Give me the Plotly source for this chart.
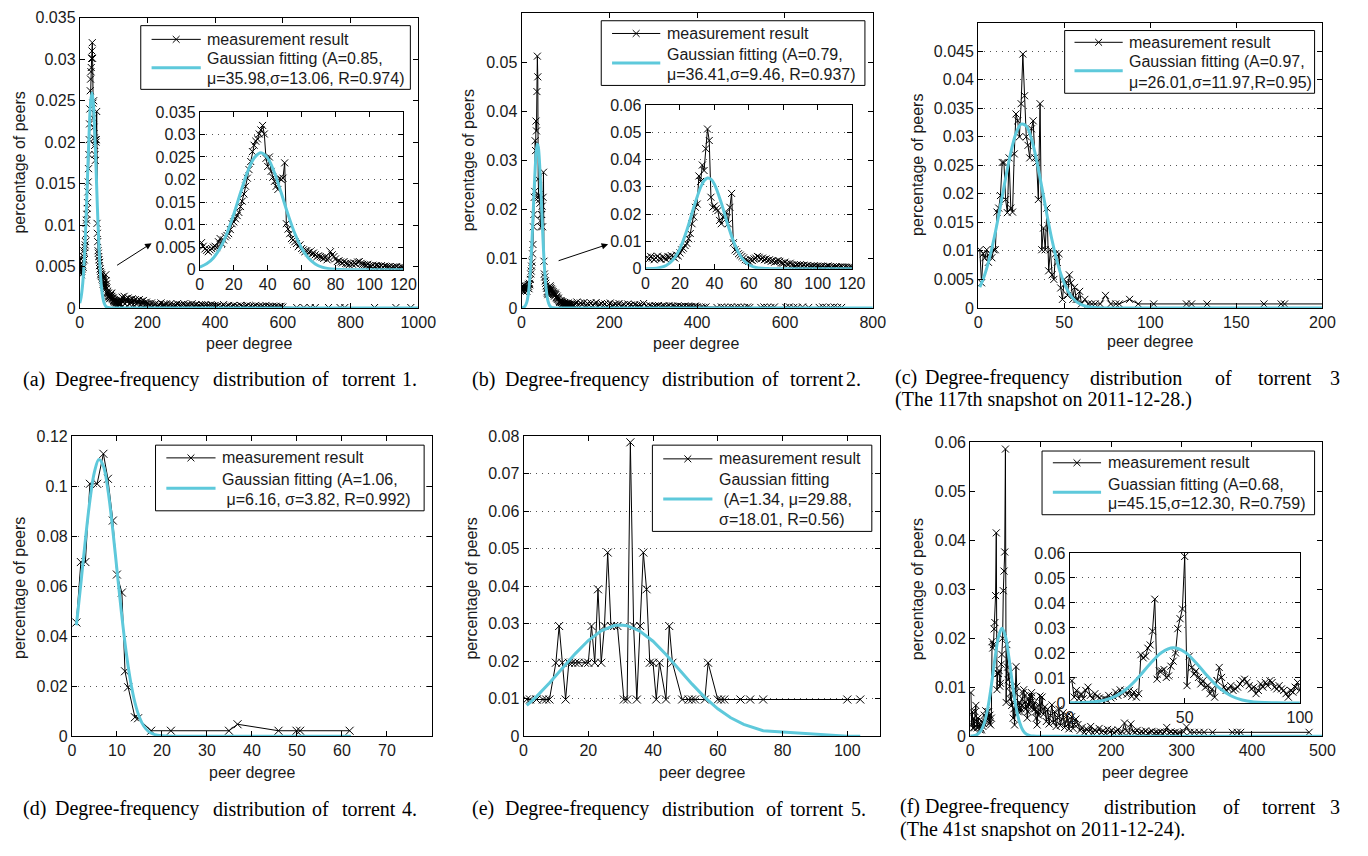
import plotly.graph_objects as go

W, H = 1368, 856
FONT = "Liberation Sans, Arial, Helvetica, sans-serif"
SERIF = "Liberation Serif, Times New Roman, serif"
CYAN = "#5EC9DB"
TXT = "#1a1a1a"
FS = 16

# ---------------- data ----------------
# (a) torrent 1 : degree 1..120 then tail
deg_a = list(range(1, 121))
pct_a = [0.0060, 0.0052, 0.0046, 0.0043, 0.0040, 0.0044, 0.0047, 0.0050, 0.0052, 0.0049,
         0.0062, 0.0069, 0.0058, 0.0066, 0.0073, 0.0076, 0.0080, 0.0089, 0.0102, 0.0106,
         0.0113, 0.0120, 0.0127, 0.0140, 0.0152, 0.0168, 0.0185, 0.0203, 0.0222, 0.0240,
         0.0262, 0.0276, 0.0285, 0.0290, 0.0301, 0.0310, 0.0320, 0.0301, 0.0247, 0.0229,
         0.0250, 0.0218, 0.0205, 0.0196, 0.0185, 0.0178, 0.0203, 0.0200, 0.0203, 0.0237,
         0.0102, 0.0090, 0.0080, 0.0069, 0.0066, 0.0062, 0.0058, 0.0051, 0.0055, 0.0047,
         0.0044, 0.0040, 0.0042, 0.0038, 0.0040, 0.0035, 0.0037, 0.0033, 0.0029, 0.0031,
         0.0029, 0.0027, 0.0025, 0.0028, 0.0022, 0.0025, 0.0040, 0.0033, 0.0029, 0.0024,
         0.0018, 0.0020, 0.0017, 0.0015, 0.0018, 0.0014, 0.0013, 0.0011, 0.0014, 0.0012,
         0.0015, 0.0013, 0.0017, 0.0018, 0.0014, 0.0012, 0.0011, 0.0010, 0.0012, 0.0009,
         0.0008, 0.0010, 0.0007, 0.0009, 0.0008, 0.0007, 0.0009, 0.0006, 0.0008, 0.0007,
         0.0006, 0.0007, 0.0005, 0.0006, 0.0005, 0.0007, 0.0004, 0.0005, 0.0006, 0.0004]
deg_a_t1 = list(range(122, 201, 3))
pct_a_t1 = [0.0009, 0.0013, 0.0007, 0.0014, 0.0005, 0.0011, 0.0008, 0.0012, 0.0005, 0.0010,
            0.0006, 0.0011, 0.0004, 0.0009, 0.0010, 0.0005, 0.0009, 0.0006, 0.0010, 0.0004,
            0.0008, 0.0005, 0.0009, 0.0006, 0.0004, 0.0007, 0.0005]
deg_a_t2 = list(range(204, 401, 4))
pct_a_t2 = [0.0005, 0.0003, 0.0006, 0.0002, 0.0004, 0.0005, 0.0002, 0.0004, 0.0003, 0.0006,
            0.0002, 0.0004, 0.0003, 0.0005, 0.0002, 0.0003, 0.0005, 0.0002, 0.0004, 0.0003,
            0.0002, 0.0005, 0.0003, 0.0002, 0.0004, 0.0003, 0.0005, 0.0002, 0.0003, 0.0004,
            0.0002, 0.0003, 0.0005, 0.0002, 0.0003, 0.0004, 0.0002, 0.0003, 0.0002, 0.0004,
            0.0003, 0.0002, 0.0004, 0.0002, 0.0003, 0.0002, 0.0004, 0.0003, 0.0002, 0.0003]
deg_a_t3 = list(range(405, 601, 5))
pct_a_t3 = [0.0002, 0.0003, 0.0001, 0.0002, 0.0004, 0.0001, 0.0002, 0.0003, 0.0001, 0.0002,
            0.0003, 0.0001, 0.0002, 0.0001, 0.0003, 0.0002, 0.0001, 0.0002, 0.0003, 0.0001,
            0.0002, 0.0001, 0.0002, 0.0003, 0.0001, 0.0002, 0.0001, 0.0002, 0.0001, 0.0003,
            0.0001, 0.0002, 0.0001, 0.0002, 0.0001, 0.0002, 0.0001, 0.0001, 0.0002, 0.0001]
deg_a_t4 = [641, 662, 681, 696, 735, 769, 783, 871, 934, 978]
pct_a_t4 = [0.00005, 0.00005, 0.00005, 0.00005, 0.00005, 0.00005, 0.00005, 0.00005, 0.00005, 0.00005]
fit_a_x = [0, 4, 8, 12, 16, 20, 24, 28, 32, 36, 40, 44, 48, 52, 56, 60, 64, 68, 72, 76, 80, 88, 96, 120, 1000]
fit_a_y = [0.00058, 0.00130, 0.00262, 0.00481, 0.00806, 0.01228, 0.01705, 0.02154, 0.02478, 0.02596,
           0.02476, 0.02150, 0.01700, 0.01223, 0.00802, 0.00478, 0.00260, 0.00129, 0.00058, 0.00024,
           0.00009, 0.00001, 0, 0, 0]

# (b) torrent 2
deg_b = list(range(1, 121))
pct_b = [0.0042, 0.0036, 0.0045, 0.0039, 0.0033, 0.0040, 0.0046, 0.0038, 0.0035, 0.0043,
         0.0040, 0.0034, 0.0045, 0.0041, 0.0048, 0.0044, 0.0039, 0.0050, 0.0047, 0.0058,
         0.0069, 0.0075, 0.0085, 0.0093, 0.0110, 0.0129, 0.0165, 0.0190, 0.0225, 0.0237,
         0.0340, 0.0320, 0.0380, 0.0360, 0.0440, 0.0512, 0.0470, 0.0262, 0.0225, 0.0230,
         0.0220, 0.0213, 0.0177, 0.0165, 0.0190, 0.0190, 0.0207, 0.0165, 0.0225, 0.0276,
         0.0095, 0.0069, 0.0063, 0.0055, 0.0050, 0.0045, 0.0040, 0.0033, 0.0030, 0.0027,
         0.0033, 0.0030, 0.0036, 0.0039, 0.0045, 0.0042, 0.0036, 0.0039, 0.0033, 0.0036,
         0.0030, 0.0033, 0.0027, 0.0030, 0.0024, 0.0027, 0.0030, 0.0027, 0.0021, 0.0020,
         0.0024, 0.0018, 0.0017, 0.0020, 0.0015, 0.0013, 0.0011, 0.0014, 0.0012, 0.0015,
         0.0011, 0.0013, 0.0009, 0.0012, 0.0008, 0.0010, 0.0009, 0.0011, 0.0008, 0.0010,
         0.0008, 0.0007, 0.0009, 0.0006, 0.0008, 0.0010, 0.0007, 0.0005, 0.0007, 0.0006,
         0.0008, 0.0005, 0.0006, 0.0007, 0.0004, 0.0006, 0.0005, 0.0004, 0.0006, 0.0005]
deg_b_t1 = list(range(122, 281, 4))
pct_b_t1 = [0.0008, 0.0012, 0.0005, 0.0010, 0.0007, 0.0011, 0.0004, 0.0009, 0.0006, 0.0010,
            0.0005, 0.0008, 0.0011, 0.0004, 0.0007, 0.0009, 0.0005, 0.0008, 0.0003, 0.0007,
            0.0010, 0.0004, 0.0006, 0.0008, 0.0005, 0.0009, 0.0003, 0.0006, 0.0007, 0.0004,
            0.0008, 0.0005, 0.0006, 0.0003, 0.0007, 0.0005, 0.0004, 0.0006, 0.0003, 0.0009]
deg_b_t2 = list(range(284, 401, 4))
pct_b_t2 = [0.0004, 0.0002, 0.0005, 0.0003, 0.0002, 0.0004, 0.0003, 0.0005, 0.0002, 0.0003,
            0.0004, 0.0002, 0.0003, 0.0005, 0.0002, 0.0004, 0.0003, 0.0002, 0.0004, 0.0002,
            0.0003, 0.0002, 0.0004, 0.0002, 0.0003, 0.0002, 0.0003, 0.0002, 0.0004, 0.0002]
deg_b_t3 = [410, 415, 420, 445, 455, 462, 470, 478, 485, 492, 500, 508, 515, 520, 545, 552,
            560, 568, 576, 602, 610, 620, 628, 640, 654, 678, 686, 694, 704, 712, 720, 729]
pct_b_t3 = [0.0002, 0.0001, 0.0002, 0.0001, 0.0002, 0.0001, 0.0001, 0.0002, 0.0001, 0.0002,
            0.0001, 0.0001, 0.0002, 0.0001, 0.0001, 0.0002, 0.0001, 0.0001, 0.0002, 0.0001,
            0.0002, 0.0001, 0.0001, 0.0002, 0.0001, 0.0001, 0.0002, 0.0001, 0.0001, 0.0002,
            0.0001, 0.0001]
fit_b_x = [0, 4, 8, 12, 16, 20, 24, 28, 32, 34, 36, 38, 40, 44, 48, 52, 56, 60, 64, 68, 72, 80, 120, 800]
fit_b_y = [0.00002, 0.00009, 0.00037, 0.00119, 0.00325, 0.00740, 0.01409, 0.02243, 0.02987, 0.03224,
           0.03327, 0.03283, 0.03099, 0.02414, 0.01572, 0.00857, 0.00390, 0.00149, 0.00047, 0.00013,
           0.00003, 0, 0, 0]

# (c) torrent 3, 117th snapshot
deg_c = list(range(1, 60))
pct_c = [0.0102, 0.0044, 0.0095, 0.0088, 0.0102, 0.0080, 0.0095, 0.0088, 0.0102, 0.0102,
         0.0168, 0.0175, 0.0197, 0.0255, 0.0255, 0.0190, 0.0167, 0.0263, 0.0175, 0.0168,
         0.0270, 0.0340, 0.0328, 0.0300, 0.0358, 0.0445, 0.0372, 0.0300, 0.0285, 0.0263,
         0.0314, 0.0328, 0.0263, 0.0255, 0.0190, 0.0358, 0.0102, 0.0140, 0.0102, 0.0175,
         0.0065, 0.0102, 0.0058, 0.0050, 0.0095, 0.0080, 0.0095, 0.0035, 0.0015, 0.0050,
         0.0044, 0.0022, 0.0058, 0.0044, 0.0015, 0.0036, 0.0015, 0.0015, 0.0029]
deg_c_t = [60, 62, 64, 66, 68, 71, 74, 77, 80, 82, 88, 93, 102, 121, 124, 133, 166, 176, 178, 230]
pct_c_t = [0.0007, 0.0015, 0.0007, 0.0007, 0.0007, 0.0007, 0.0022, 0.0007, 0.0007, 0.0007,
           0.0015, 0.0007, 0.0007, 0.0007, 0.0007, 0.0007, 0.0007, 0.0007, 0.0007, 0.0007]
fit_c_x = [1, 4, 7, 10, 13, 16, 19, 22, 25, 28, 31, 34, 37, 40, 43, 46, 49, 52, 55, 58, 61, 65, 70, 80, 200]
fit_c_y = [0.00364, 0.00596, 0.00916, 0.01322, 0.01791, 0.02279, 0.02723, 0.03057, 0.03221, 0.03189,
           0.02964, 0.02587, 0.02121, 0.01633, 0.01181, 0.00802, 0.00511, 0.00306, 0.00172, 0.00091,
           0.00045, 0.00016, 0.00004, 0, 0]

# (d) torrent 4
deg_d = [1, 2, 3, 4, 5.6, 7, 8, 9.1, 10, 11.1, 11.8, 12.5, 14, 14.7, 17.6, 22, 34.9, 36.8, 45.9, 49.9, 50.7, 61.7]
pct_d = [0.0455, 0.0697, 0.0697, 0.101, 0.101, 0.113, 0.103, 0.0863, 0.0647, 0.0575, 0.026,
         0.0196, 0.0076, 0.0072, 0.0022, 0.0022, 0.0022, 0.0048, 0.0022, 0.0022, 0.0022, 0.0022]
fit_d_x = [1, 2, 3, 4, 5, 6, 7, 8, 9, 10, 11, 12, 13, 14, 15, 16, 17, 18, 19, 20, 22, 30, 62]
fit_d_y = [0.0444, 0.0612, 0.0786, 0.0943, 0.1057, 0.1107, 0.1081, 0.0986, 0.0840, 0.0668,
           0.0496, 0.0344, 0.0223, 0.0135, 0.0076, 0.0040, 0.00197, 0.00091, 0.00039, 0.00016,
           0.00002, 0, 0]

# (e) torrent 5
deg_e = [1, 2, 4, 6, 7, 8, 10, 11, 12, 13, 14, 15, 16, 17, 19, 20, 21, 22, 23, 24, 25, 26, 27, 28, 29,
         31, 32, 33, 34, 35, 36, 37, 38, 39, 40, 41, 42, 44, 45, 46, 49, 51, 52, 53, 56, 57,
         60, 61, 62, 67, 70, 74, 100, 104]
pct_e = [0.0098, 0.0098, 0.0098, 0.0098, 0.0098, 0.0098, 0.0196, 0.0294, 0.0196, 0.0098,
         0.0196, 0.0196, 0.0196, 0.0196, 0.0196, 0.0196, 0.0294, 0.0196, 0.0392, 0.0196,
         0.0294, 0.0490, 0.0294, 0.0294, 0.0294, 0.0098, 0.0098, 0.0784, 0.0294, 0.0098,
         0.0294, 0.0490, 0.0392, 0.0196, 0.0196, 0.0098, 0.0196, 0.0098, 0.0294, 0.0196,
         0.0098, 0.0098, 0.0098, 0.0098, 0.0098, 0.0196, 0.0098, 0.0098, 0.0098, 0.0098,
         0.0098, 0.0098, 0.0098, 0.0098]
fit_e_x = [1, 4, 8, 12, 16, 20, 24, 28, 30, 32, 36, 40, 44, 48, 52, 56, 60, 64, 68, 74, 100, 104]
fit_e_y = [0.00821, 0.01057, 0.01419, 0.01813, 0.02205, 0.02553, 0.02814, 0.02952, 0.02968, 0.02948,
           0.02802, 0.02534, 0.02183, 0.01789, 0.01396, 0.01037, 0.00733, 0.00493, 0.00316, 0.00148,
           0.00002, 0.00001]

# (f) torrent 3, 41st snapshot
deg_f = list(range(1, 101))
pct_f = [0.0089, 0.0023, 0.0050, 0.0017, 0.0037, 0.0017, 0.0050, 0.0063, 0.0030, 0.0017,
         0.0037, 0.0026, 0.0020, 0.0013, 0.0017, 0.0013, 0.0030, 0.0020, 0.0026, 0.0043,
         0.0030, 0.0052, 0.0037, 0.0050, 0.0034, 0.0050, 0.0026, 0.0043, 0.0023, 0.0037,
         0.0193, 0.0180, 0.0187, 0.0219, 0.0232, 0.0287, 0.0415, 0.0095, 0.0128, 0.0128,
         0.0134, 0.0102, 0.0108, 0.0147, 0.0167, 0.0200, 0.0297, 0.0337, 0.0376, 0.0586,
         0.0069, 0.0187, 0.0141, 0.0115, 0.0128, 0.0102, 0.0076, 0.0089, 0.0063, 0.0069,
         0.0037, 0.0056, 0.0023, 0.0089, 0.0142, 0.0102, 0.0063, 0.0050, 0.0056, 0.0069,
         0.0050, 0.0056, 0.0063, 0.0076, 0.0089, 0.0095, 0.0082, 0.0069, 0.0056, 0.0063,
         0.0037, 0.0050, 0.0076, 0.0063, 0.0082, 0.0069, 0.0089, 0.0082, 0.0063, 0.0056,
         0.0069, 0.0056, 0.0050, 0.0037, 0.0023, 0.0050, 0.0043, 0.0063, 0.0082, 0.0050]
deg_f_t1 = list(range(102, 151, 2))
pct_f_t1 = [0.0080, 0.0045, 0.0060, 0.0030, 0.0055, 0.0025, 0.0042, 0.0064, 0.0028, 0.0050,
            0.0020, 0.0038, 0.0055, 0.0022, 0.0035, 0.0048, 0.0018, 0.0030, 0.0042, 0.0015,
            0.0028, 0.0040, 0.0016, 0.0024, 0.0035]
deg_f_t2 = list(range(153, 300, 3))
pct_f_t2 = [0.0024, 0.0012, 0.0018, 0.0008, 0.0015, 0.0010, 0.0020, 0.0007, 0.0013, 0.0009,
            0.0016, 0.0008, 0.0011, 0.0006, 0.0014, 0.0009, 0.0012, 0.0007, 0.0010, 0.0013,
            0.0006, 0.0009, 0.0027, 0.0011, 0.0007, 0.0025, 0.0010, 0.0008, 0.0012, 0.0006,
            0.0009, 0.0007, 0.0011, 0.0006, 0.0008, 0.0010, 0.0006, 0.0008, 0.0007, 0.0009,
            0.0006, 0.0008, 0.0018, 0.0007, 0.0009, 0.0006, 0.0008, 0.0006, 0.0007]
deg_f_t3 = [303, 307, 312, 318, 325, 332, 344, 372, 379, 384, 481]
pct_f_t3 = [0.0009, 0.0019, 0.0008, 0.0008, 0.0008, 0.0008, 0.0008, 0.0008, 0.0008, 0.0008, 0.0008]
fit_f_x = [0, 5, 10, 15, 20, 25, 30, 35, 40, 45, 50, 55, 60, 65, 70, 75, 80, 85, 90, 95, 100, 500]
fit_f_y = [0.00003, 0.00011, 0.00037, 0.00109, 0.00273, 0.00576, 0.01033, 0.01569, 0.02020, 0.02205,
           0.02040, 0.01600, 0.01064, 0.00600, 0.00286, 0.00116, 0.00040, 0.00012, 0.00003, 0.00001,
           0, 0]

# legend texts
meas_label = "measurement result"
fit_labels = {
    "a": ["Gaussian fitting (A=0.85,", "\u03bc=35.98,\u03c3=13.06, R=0.974)"],
    "b": ["Gaussian fitting (A=0.79,", "\u03bc=36.41,\u03c3=9.46, R=0.937)"],
    "c": ["Gaussian fitting (A=0.97,", "\u03bc=26.01,\u03c3=11.97,R=0.95)"],
    "d": ["Gaussian fitting (A=1.06,", "\u00a0\u03bc=6.16, \u03c3=3.82, R=0.992)"],
    "e": ["Gaussian fitting", "\u00a0(A=1.34, \u03bc=29.88,", "\u03c3=18.01, R=0.56)"],
    "f": ["Guassian fitting (A=0.68,", "\u03bc=45.15,\u03c3=12.30, R=0.759)"],
}

xa = deg_a + deg_a_t1 + deg_a_t2 + deg_a_t3 + deg_a_t4
ya = pct_a + pct_a_t1 + pct_a_t2 + pct_a_t3 + pct_a_t4
xb = deg_b + deg_b_t1 + deg_b_t2 + deg_b_t3
yb = pct_b + pct_b_t1 + pct_b_t2 + pct_b_t3
xc = deg_c + deg_c_t
yc = pct_c + pct_c_t
xf = deg_f + deg_f_t1 + deg_f_t2 + deg_f_t3
yf = pct_f + pct_f_t1 + pct_f_t2 + pct_f_t3

# ---------------- figure ----------------
fig = go.Figure()


def add_panel(xs, ys, fx, fy, xa_id, ya_id, fname, msize=7, shape="spline"):
    fig.add_trace(go.Scatter(
        x=xs, y=ys, mode="lines+markers", name=meas_label,
        xaxis=xa_id, yaxis=ya_id, showlegend=False,
        line=dict(color="black", width=1),
        marker=dict(symbol="x-thin", size=msize, line=dict(width=1, color="black"), color="black"),
    ))
    fig.add_trace(go.Scatter(
        x=fx, y=fy, mode="lines", name=fname,
        xaxis=xa_id, yaxis=ya_id, showlegend=False,
        line=dict(color=CYAN, width=3, shape=shape),
    ))


add_panel(xa, ya, fit_a_x, fit_a_y, "x", "y", " ".join(fit_labels["a"]))
add_panel(xb, yb, fit_b_x, fit_b_y, "x2", "y2", " ".join(fit_labels["b"]))
add_panel(xc, yc, fit_c_x, fit_c_y, "x3", "y3", " ".join(fit_labels["c"]))
add_panel(deg_d, pct_d, fit_d_x, fit_d_y, "x4", "y4", " ".join(fit_labels["d"]), msize=8)
add_panel(deg_e, pct_e, fit_e_x, fit_e_y, "x5", "y5", " ".join(fit_labels["e"]), msize=8, shape="linear")
add_panel(xf, yf, fit_f_x, fit_f_y, "x6", "y6", " ".join(fit_labels["f"]))
# insets
add_panel(xa, ya, fit_a_x, fit_a_y, "x7", "y7", " ".join(fit_labels["a"]))
add_panel(xb, yb, fit_b_x, fit_b_y, "x8", "y8", " ".join(fit_labels["b"]))
add_panel(xf, yf, fit_f_x, fit_f_y, "x9", "y9", " ".join(fit_labels["f"]))


def PX(x):
    return x / W


def PY(y):
    return 1 - y / H


def dom_x(a, b):
    return [a / W, b / W]


def dom_y(top, bottom):
    return [1 - bottom / H, 1 - top / H]


def lab(v):
    return "%g" % v


def axis(domain, rng, tickvals, anchor, grid=False):
    d = dict(domain=domain, range=rng, anchor=anchor, tickvals=tickvals,
             ticktext=[lab(v) for v in tickvals], showline=True, linecolor="black",
             linewidth=1, mirror="ticks", ticks="inside", ticklen=5, tickcolor="black",
             zeroline=False, showgrid=grid, fixedrange=True,
             tickfont=dict(family=FONT, size=FS, color=TXT))
    if grid:
        d.update(gridcolor="#555555", griddash="1px,5px", gridwidth=1)
    return d


yt_a = [0, 0.005, 0.01, 0.015, 0.02, 0.025, 0.03, 0.035]
yt_b = [0, 0.01, 0.02, 0.03, 0.04, 0.05]
yt_b6 = [0, 0.01, 0.02, 0.03, 0.04, 0.05, 0.06]
yt_c = [0, 0.005, 0.01, 0.015, 0.02, 0.025, 0.03, 0.035, 0.04, 0.045]
yt_d = [0, 0.02, 0.04, 0.06, 0.08, 0.1, 0.12]
yt_e = [0, 0.01, 0.02, 0.03, 0.04, 0.05, 0.06, 0.07, 0.08]

layout_axes = dict(
    xaxis=axis(dom_x(77, 421), [0, 1000], [0, 200, 400, 600, 800, 1000], "y"),
    yaxis=axis(dom_y(10, 306), [0, 0.035], yt_a, "x"),
    xaxis2=axis(dom_x(526, 883), [0, 800], [0, 200, 400, 600, 800], "y2"),
    yaxis2=axis(dom_y(5, 306), [0, 0.06], yt_b, "x2"),
    xaxis3=axis(dom_x(990, 1340), [0, 200], [0, 50, 100, 150, 200], "y3"),
    yaxis3=axis(dom_y(15, 306), [0, 0.05], yt_c, "x3", grid=True),
    xaxis4=axis(dom_x(69, 435), [0, 80], [0, 10, 20, 30, 40, 50, 60, 70], "y4"),
    yaxis4=axis(dom_y(437, 743), [0, 0.12], yt_d, "x4", grid=True),
    xaxis5=axis(dom_x(528, 890), [0, 110], [0, 20, 40, 60, 80, 100], "y5"),
    yaxis5=axis(dom_y(437, 743), [0, 0.08], yt_e, "x5", grid=True),
    xaxis6=axis(dom_x(982, 1340), [0, 500], [0, 100, 200, 300, 400, 500], "y6"),
    yaxis6=axis(dom_y(443, 743), [0, 0.06], yt_b6, "x6"),
    xaxis7=axis(dom_x(199, 406), [0, 120], [0, 20, 40, 60, 80, 100, 120], "y7"),
    yaxis7=axis(dom_y(106, 267), [0, 0.035], yt_a, "x7", grid=True),
    xaxis8=axis(dom_x(652, 862), [0, 120], [0, 20, 40, 60, 80, 100, 120], "y8"),
    yaxis8=axis(dom_y(99, 266), [0, 0.06], yt_b6, "x8", grid=True),
    xaxis9=axis(dom_x(1083, 1317), [0, 100], [0, 50, 100], "y9"),
    yaxis9=axis(dom_y(556, 709), [0, 0.06], yt_b6, "x9", grid=True),
)

annotations = []
shapes = []


def text(x, y, s, size=FS, family=FONT, angle=0, xanchor="center", color=TXT):
    annotations.append(dict(x=PX(x), y=PY(y), xref="paper", yref="paper", text=s,
                            showarrow=False, textangle=angle, xanchor=xanchor, yanchor="middle",
                            borderpad=0, font=dict(family=family, size=size, color=color)))


def pline(x0, y0, x1, y1, color="black", width=1):
    shapes.append(dict(type="line", xref="paper", yref="paper", x0=PX(x0), y0=PY(y0),
                       x1=PX(x1), y1=PY(y1), line=dict(color=color, width=width)))


# ---- legends drawn as boxes (position in pixels of the reference) ----
legend_boxes = [
    # box x0, y0, x1, y1, sample x0, x1, y of meas row, y of fit line, text x, text row ys, key
    (139, 18, 413, 83, 150, 200, 32, 61, 205, [52, 72], "a"),
    (607, 13, 875, 79, 618, 667, 26, 56, 673, [47, 68], "b"),
    (1078, 23, 1332, 87, 1088, 1137, 35, 64, 1142, [55, 76], "c"),
    (154, 446, 427, 513, 165, 215, 459, 490, 221, [481, 501], "d"),
    (659, 446, 882, 534, 670, 720, 460, 501, 726, [481, 501, 522], "e"),
    (1055, 452, 1332, 517, 1066, 1115, 464, 494, 1121, [486, 506], "f"),
]
for (bx0, by0, bx1, by1, sx0, sx1, ym, yc_, tx, rows, key) in legend_boxes:
    shapes.append(dict(type="rect", xref="paper", yref="paper", x0=PX(bx0), y0=PY(by1),
                       x1=PX(bx1), y1=PY(by0), line=dict(color="black", width=1),
                       fillcolor="white"))
    pline(sx0, ym, sx1, ym)
    cx = (sx0 + sx1) / 2
    pline(cx - 3.5, ym - 3.5, cx + 3.5, ym + 3.5)
    pline(cx - 3.5, ym + 3.5, cx + 3.5, ym - 3.5)
    pline(sx0, yc_, sx1, yc_, color=CYAN, width=3)
    text(tx, ym, meas_label, xanchor="left")
    for ry, s in zip(rows, fit_labels[key]):
        text(tx, ry, s, xanchor="left")

# axis titles
for (cx, cy) in [(249, 342), (703, 342), (1165, 340), (252, 780), (709, 780), (1160, 780)]:
    text(cx, cy, "peer degree")
for (cx, cy) in [(16, 158), (473, 155), (929, 160), (15, 592), (475, 592), (928, 593)]:
    text(cx, cy, "percentage of peers", angle=-90)

# captions (word positions follow the justified layout)
CAP = 20
captions = [
    (379, [(18, "(a)"), (51, "Degree-frequency"), (211, "distribution"), (312, "of"), (342, "torrent"), (403, "1.")]),
    (379, [(475, "(b)"), (508, "Degree-frequency"), (668, "distribution"), (769, "of"), (798, "torrent"), (855, "2.")]),
    (377, [(905, "(c)"), (935, "Degree-frequency"), (1103, "distribution"), (1230, "of"), (1273, "torrent"), (1347, "3")]),
    (399, [(905, "(The 117th snapshot on 2011-12-28.)")]),
    (817, [(18, "(d)"), (51, "Degree-frequency"), (211, "distribution"), (312, "of"), (342, "torrent"), (403, "4.")]),
    (817, [(475, "(e)"), (508, "Degree-frequency"), (668, "distribution"), (773, "of"), (798, "torrent"), (860, "5.")]),
    (815, [(910, "(f)"), (935, "Degree-frequency"), (1117, "distribution"), (1238, "of"), (1278, "torrent"), (1347, "3")]),
    (838, [(910, "(The 41st snapshot on 2011-12-24).")]),
]
for cy, words in captions:
    for wx, w in words:
        text(wx, cy, w, size=CAP, family=SERIF, xanchor="left", color="black")

# arrows pointing to the insets
for (hx, hy, ax, ay) in [(150, 240, -36, 23), (614, 241, -51, 17)]:
    annotations.append(dict(x=PX(hx), y=PY(hy), xref="paper", yref="paper", text="",
                            showarrow=True, ax=ax, ay=ay, arrowhead=2, arrowsize=1.3,
                            arrowwidth=1, arrowcolor="black"))

fig.update_layout(
    width=W, height=H, autosize=False,
    margin=dict(l=0, r=0, t=0, b=0),
    paper_bgcolor="white", plot_bgcolor="white",
    font=dict(family=FONT, size=FS, color=TXT),
    showlegend=False,
    annotations=annotations,
    shapes=shapes,
    **layout_axes,
)

fig.write_html("out.html")
